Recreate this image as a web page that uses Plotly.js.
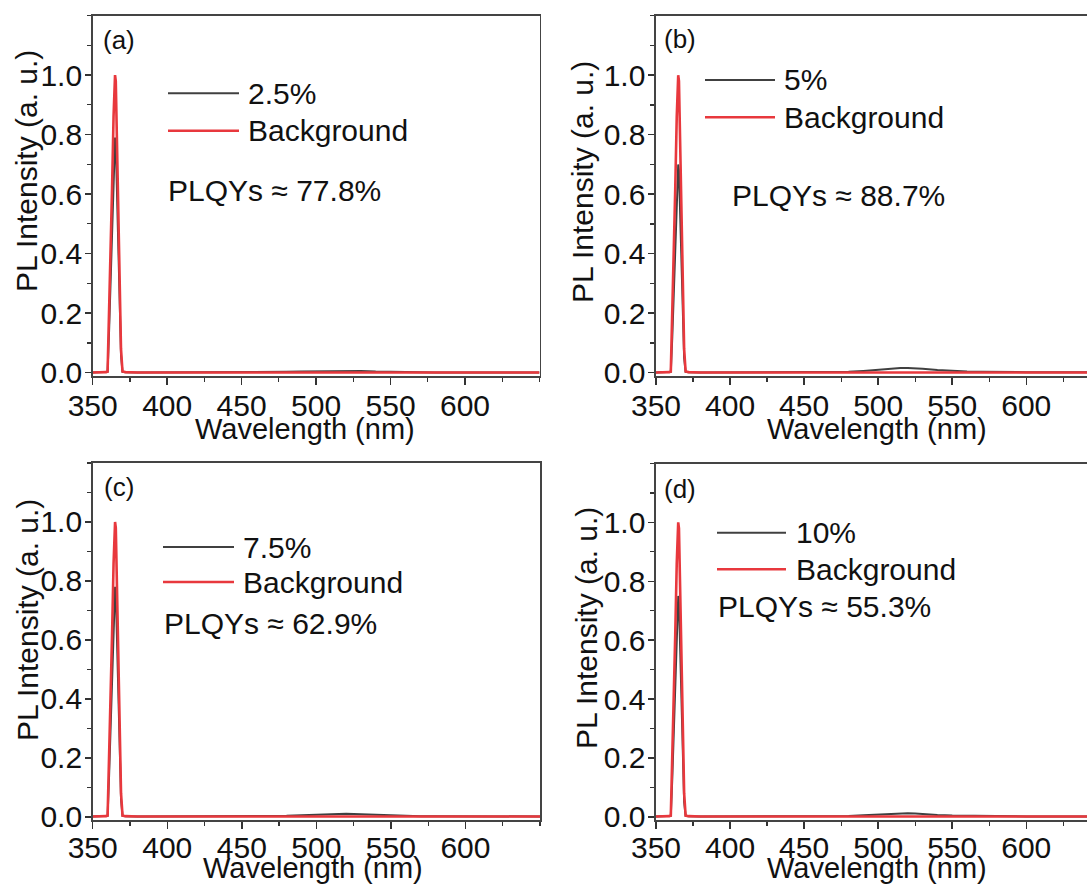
<!DOCTYPE html>
<html>
<head>
<meta charset="utf-8">
<script src="https://cdn.plot.ly/plotly-3.0.1.min.js"></script>
<style>
  html, body { margin: 0; padding: 0; background: #ffffff; }
  #chart { width: 1087px; height: 888px; }
</style>
</head>
<body>
<div id="chart"></div>
<script>
// ---------------- data ----------------
const wavelength = [350,355,359,360,361,362,363,364,364.5,365,365.5,366,367,368,369,370,372,380,400,450,470,480,490,500,505,510,515,520,525,530,540,550,560,570,580,600,620,640,650];

const backgroundA = [0.001,0.001,0.002,0.004,0.18,0.40,0.62,0.86,0.97,1.0,0.98,0.86,0.60,0.34,0.08,0.004,0.002,0.001,0.001,0.001,0.001,0.001,0.001,0.001,0.001,0.001,0.001,0.001,0.001,0.001,0.001,0.001,0.001,0.001,0.001,0.001,0.001,0.001,0.001];
const sampleA = [0.001,0.001,0.002,0.003,0.14,0.31,0.49,0.68,0.77,0.79,0.77,0.68,0.47,0.27,0.06,0.003,0.002,0.001,0.001,0.001,0.002,0.003,0.004,0.005,0.006,0.0065,0.007,0.007,0.0065,0.006,0.004,0.003,0.002,0.002,0.001,0.001,0.001,0.001,0.001];

const backgroundB = [0.001,0.001,0.002,0.004,0.18,0.40,0.62,0.86,0.97,1.0,0.98,0.86,0.60,0.34,0.08,0.004,0.002,0.001,0.001,0.001,0.001,0.001,0.001,0.001,0.001,0.001,0.001,0.001,0.001,0.001,0.001,0.001,0.001,0.001,0.001,0.001,0.001,0.001,0.001];
const sampleB = [0.001,0.001,0.002,0.003,0.12,0.27,0.43,0.60,0.68,0.70,0.68,0.60,0.42,0.24,0.05,0.003,0.002,0.001,0.001,0.001,0.002,0.003,0.006,0.010,0.013,0.015,0.016,0.016,0.015,0.013,0.009,0.006,0.004,0.003,0.002,0.002,0.002,0.002,0.002];

const backgroundC = [0.001,0.001,0.002,0.004,0.18,0.40,0.62,0.86,0.97,1.0,0.98,0.86,0.60,0.34,0.08,0.004,0.002,0.001,0.001,0.001,0.001,0.001,0.001,0.001,0.001,0.001,0.001,0.001,0.001,0.001,0.001,0.001,0.001,0.001,0.001,0.001,0.001,0.001,0.001];
const sampleC = [0.001,0.001,0.002,0.003,0.14,0.30,0.48,0.67,0.76,0.78,0.76,0.67,0.46,0.26,0.06,0.003,0.002,0.001,0.001,0.001,0.002,0.003,0.005,0.007,0.008,0.009,0.010,0.010,0.009,0.008,0.006,0.004,0.003,0.002,0.002,0.001,0.001,0.001,0.001];

const backgroundD = [0.001,0.001,0.002,0.004,0.18,0.40,0.62,0.86,0.97,1.0,0.98,0.86,0.60,0.34,0.08,0.004,0.002,0.001,0.001,0.001,0.001,0.001,0.001,0.001,0.001,0.001,0.001,0.001,0.001,0.001,0.001,0.001,0.001,0.001,0.001,0.001,0.001,0.001,0.001];
const sampleD = [0.001,0.001,0.002,0.003,0.13,0.29,0.46,0.64,0.73,0.75,0.73,0.64,0.45,0.25,0.05,0.003,0.002,0.001,0.001,0.001,0.002,0.003,0.005,0.008,0.010,0.011,0.012,0.012,0.011,0.009,0.006,0.004,0.003,0.002,0.002,0.001,0.001,0.001,0.001];

const sampleNames = ['2.5%', '5%', '7.5%', '10%'];
const backgroundName = 'Background';
const panelLabels = ['(a)', '(b)', '(c)', '(d)'];
const plqyTexts = ['PLQYs ≈ 77.8%', 'PLQYs ≈ 88.7%', 'PLQYs ≈ 62.9%', 'PLQYs ≈ 55.3%'];
const xTickVals = [350, 400, 450, 500, 550, 600];
const yTickVals = [0, 0.2, 0.4, 0.6, 0.8, 1.0];
const xTitle = 'Wavelength (nm)';
const yTitle = 'PL Intensity (a. u.)';

// ---------------- styling / layout ----------------
const W = 1087, H = 888;
const px = x => x / W;
const py = y => 1 - y / H;
const FONT = 'Arial, "Liberation Sans", sans-serif';
const RED = '#e8383d';
const BLACK = '#404040';
const AXIS = '#444444';
const TXT = '#111111';

const samples = [sampleA, sampleB, sampleC, sampleD];
const backgrounds = [backgroundA, backgroundB, backgroundC, backgroundD];

// panel geometry in pixels: [left, right, top, bottom], x range max, mirror right side
const panels = [
  {l: 92.7, r: 539.5, t: 15.5, b: 376, xmax: 650, mirrorY: true, xStand: -5},
  {l: 656, r: 1087, t: 15.7, b: 376, xmax: 641, mirrorY: false, xStand: -5},
  {l: 92.7, r: 540, t: 463, b: 820, xmax: 650, mirrorY: true, xStand: -7},
  {l: 656, r: 1087, t: 463.5, b: 820, xmax: 641, mirrorY: false, xStand: -7}
];

const traces = [];
const layout = {
  width: W, height: H,
  margin: {l: 0, r: 0, t: 0, b: 0},
  paper_bgcolor: '#ffffff',
  plot_bgcolor: '#ffffff',
  showlegend: false,
  font: {family: FONT, size: 30, color: TXT},
  shapes: [],
  annotations: []
};

panels.forEach((p, i) => {
  const n = i + 1;
  const xa = n === 1 ? 'x' : 'x' + n;
  const ya = n === 1 ? 'y' : 'y' + n;
  traces.push({
    x: wavelength, y: samples[i], type: 'scatter', mode: 'lines',
    name: sampleNames[i], xaxis: xa, yaxis: ya,
    line: {color: BLACK, width: 2}
  });
  traces.push({
    x: wavelength, y: backgrounds[i], type: 'scatter', mode: 'lines',
    name: backgroundName, xaxis: xa, yaxis: ya,
    line: {color: RED, width: 2.6}
  });
  const xk = n === 1 ? 'xaxis' : 'xaxis' + n;
  const yk = n === 1 ? 'yaxis' : 'yaxis' + n;
  layout[xk] = {
    domain: [px(p.l), px(p.r)], range: [350, p.xmax], anchor: ya,
    showline: true, linecolor: AXIS, linewidth: 1.6, mirror: true,
    showgrid: false, zeroline: false,
    ticks: 'outside', ticklen: 7, tickwidth: 1.5, tickcolor: '#333',
    ticklabelstandoff: p.xStand,
    tickmode: 'array', tickvals: xTickVals,
    tickfont: {family: FONT, size: 30, color: TXT},
    minor: {ticks: 'outside', ticklen: 4, tickwidth: 1.2, tickcolor: '#333', tickmode: 'linear', tick0: 350, dtick: 25, showgrid: false}
  };
  layout[yk] = {
    domain: [py(p.b), py(p.t)], range: [-0.011, 1.2], anchor: xa,
    showline: true, linecolor: AXIS, linewidth: 1.6, mirror: p.mirrorY,
    showgrid: false, zeroline: false,
    ticks: 'outside', ticklen: 6, tickwidth: 1.5, tickcolor: '#333',
    ticklabelstandoff: -3,
    tickmode: 'array', tickvals: yTickVals, tickformat: '.1f',
    tickfont: {family: FONT, size: 30, color: TXT},
    minor: {ticks: 'outside', ticklen: 4, tickwidth: 1.2, tickcolor: '#333', tickmode: 'linear', tick0: 0, dtick: 0.1, showgrid: false}
  };
});

// legend replicas, labels, titles (positions in pixels)
const legendPos = [
  {x0: 168, x1: 239, tx: 246, y1: 93.3, y2: 130.7},
  {x0: 705, x1: 775, tx: 782, y1: 80, y2: 117.3},
  {x0: 163, x1: 234, tx: 241, y1: 547, y2: 582},
  {x0: 717, x1: 786, tx: 794, y1: 532.7, y2: 569.3}
];
const plqyPos = [[166, 190], [730, 196], [162, 623], [716, 606.7]];
const labelPos = [[101, 40], [662, 39.5], [102, 487], [662, 489]];
const xTitlePos = [[305, 429], [877, 429], [313, 868], [877, 868]];
const yTitlePos = [[27, 171], [582, 182], [27, 620], [586, 628]];

function ann(text, x, y, xanchor, size, angle) {
  const a = {
    text: text, x: px(x), y: py(y), xref: 'paper', yref: 'paper',
    xanchor: xanchor, yanchor: 'middle', showarrow: false,
    font: {family: FONT, size: size, color: TXT}
  };
  if (angle !== undefined) a.textangle = angle;
  return a;
}

for (let i = 0; i < 4; i++) {
  const L = legendPos[i];
  layout.shapes.push({type: 'line', xref: 'paper', yref: 'paper',
    x0: px(L.x0), x1: px(L.x1), y0: py(L.y1), y1: py(L.y1),
    line: {color: BLACK, width: 2}});
  layout.shapes.push({type: 'line', xref: 'paper', yref: 'paper',
    x0: px(L.x0), x1: px(L.x1), y0: py(L.y2), y1: py(L.y2),
    line: {color: RED, width: 2.6}});
  layout.annotations.push(ann(sampleNames[i], L.tx, L.y1, 'left', 30));
  layout.annotations.push(ann(backgroundName, L.tx, L.y2, 'left', 30));
  layout.annotations.push(ann(plqyTexts[i], plqyPos[i][0], plqyPos[i][1], 'left', 30));
  layout.annotations.push(ann(panelLabels[i], labelPos[i][0], labelPos[i][1], 'left', 26));
  layout.annotations.push(ann(xTitle, xTitlePos[i][0], xTitlePos[i][1], 'center', 29));
  layout.annotations.push(ann(yTitle, yTitlePos[i][0], yTitlePos[i][1], 'center', 30, -90));
}

Plotly.newPlot('chart', traces, layout, {staticPlot: true, displayModeBar: false});
</script>
</body>
</html>
